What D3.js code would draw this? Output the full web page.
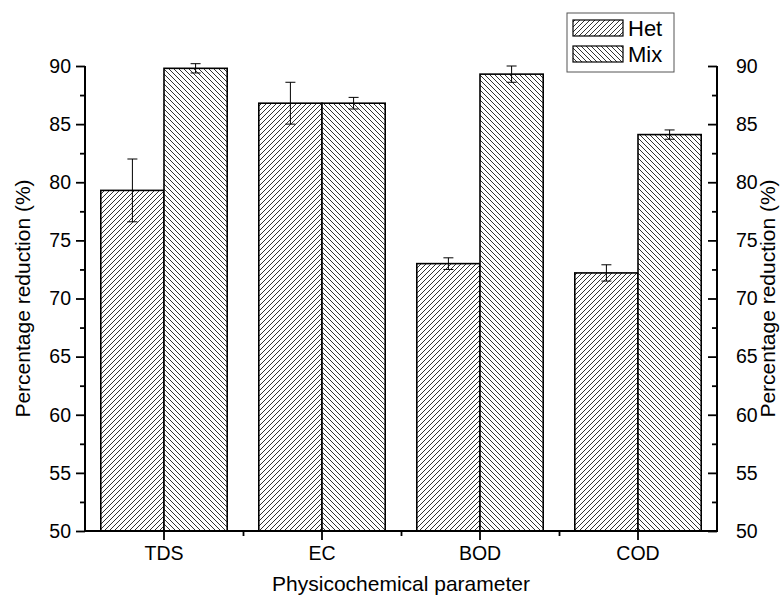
<!DOCTYPE html>
<html><head><meta charset="utf-8">
<script src="https://cdn.jsdelivr.net/npm/d3@7/dist/d3.min.js"></script>
<style>body{margin:0;background:#fff}svg{display:block}text{font-family:"Liberation Sans",Arial,sans-serif;fill:#000}</style>
</head><body><svg id="c" width="781" height="603"></svg>
<script>
const categories = ["TDS","EC","BOD","COD"];
const seriesNames = ["Het","Mix"];
const hetValues = [79.3, 86.8, 73.0, 72.2];
const hetErrors = [2.7, 1.8, 0.5, 0.7];
const mixValues = [89.8, 86.8, 89.3, 84.1];
const mixErrors = [0.4, 0.5, 0.7, 0.4];
const yTicks = [50,55,60,65,70,75,80,85,90];
const yMinorTicks = [52.5,57.5,62.5,67.5,72.5,77.5,82.5,87.5];

const svg = d3.select("#c");
const L = 85, R = 717, T = 66, B = 531;
const x = d3.scaleBand().domain(categories).range([L, R]).padding(0);
const y = d3.scaleLinear().domain([50, 90]).range([B, T]);
const inner = d3.scaleBand().domain(seriesNames).range([0, x.bandwidth()]).paddingOuter(0.25).paddingInner(0);

const defs = svg.append("defs");
const P = 5;
function pat(id, d){
  const p = defs.append("pattern").attr("id", id).attr("patternUnits","userSpaceOnUse").attr("width",P).attr("height",P);
  p.append("rect").attr("width",P).attr("height",P).attr("fill","#fff");
  p.append("path").attr("d", d).attr("stroke","#333").attr("stroke-width",1.2).attr("fill","none").attr("shape-rendering","crispEdges");
}
pat("hHet",`M0,${P} L${P},0 M-1,1 L1,-1 M${P-1},${P+1} L${P+1},${P-1}`);
pat("hMix",`M0,0 L${P},${P} M-1,${P-1} L1,${P+1} M${P-1},-1 L${P+1},1`);
const fills = {Het:"url(#hHet)", Mix:"url(#hMix)"};

const data = [];
categories.forEach((c,i)=>{
  data.push({cat:c, s:"Het", v:hetValues[i], e:hetErrors[i]});
  data.push({cat:c, s:"Mix", v:mixValues[i], e:mixErrors[i]});
});

// bars
svg.append("g").selectAll("rect").data(data).join("rect")
  .attr("x", d=>x(d.cat)+inner(d.s))
  .attr("y", d=>y(d.v))
  .attr("width", inner.bandwidth())
  .attr("height", d=>y(50)-y(d.v))
  .attr("fill", d=>fills[d.s])
  .attr("stroke","#000").attr("stroke-width",1.6);

// error bars
const eb = svg.append("g").attr("stroke","#000").attr("stroke-width",1);
data.forEach(d=>{
  const cx = x(d.cat)+inner(d.s)+inner.bandwidth()/2;
  eb.append("line").attr("x1",cx).attr("x2",cx).attr("y1",y(d.v+d.e)).attr("y2",y(d.v-d.e));
  eb.append("line").attr("x1",cx-5).attr("x2",cx+5).attr("y1",y(d.v+d.e)).attr("y2",y(d.v+d.e));
  eb.append("line").attr("x1",cx-5).attr("x2",cx+5).attr("y1",y(d.v-d.e)).attr("y2",y(d.v-d.e));
});

// axes
const fs = "19.5px";
svg.append("g").attr("transform",`translate(${L},0)`)
  .call(d3.axisLeft(y).tickValues(yTicks).tickSize(9).tickPadding(5).tickFormat(d3.format("d")));
svg.append("g").attr("transform",`translate(${L},0)`)
  .call(d3.axisLeft(y).tickValues(yMinorTicks).tickSize(5).tickFormat(""));
svg.append("g").attr("transform",`translate(${R},0)`)
  .call(d3.axisRight(y).tickValues(yTicks).tickSize(-9).tickPadding(19).tickFormat(d3.format("d")));
svg.append("g").attr("transform",`translate(${R},0)`)
  .call(d3.axisRight(y).tickValues(yMinorTicks).tickSize(-5).tickFormat(""));
svg.append("g").attr("transform",`translate(0,${B})`)
  .call(d3.axisBottom(x).tickSize(9).tickPadding(6));
const boundaries = categories.slice(1).map(c=>x(c));
const xMinor = d3.scaleLinear().domain([L,R]).range([L,R]);
svg.append("g").attr("transform",`translate(0,${B})`)
  .call(d3.axisBottom(xMinor).tickValues(boundaries).tickSize(5).tickFormat(""));
svg.selectAll(".tick line").attr("stroke","#000").attr("stroke-width",1.8);
svg.selectAll(".tick text").style("font-size",fs);
svg.selectAll(".domain").remove();
svg.append("line").attr("x1",L).attr("x2",L).attr("y1",T).attr("y2",B+1).attr("stroke","#000").attr("stroke-width",2);
svg.append("line").attr("x1",R).attr("x2",R).attr("y1",T).attr("y2",B+1).attr("stroke","#000").attr("stroke-width",2);
svg.append("line").attr("x1",L-1).attr("x2",R+1).attr("y1",B).attr("y2",B).attr("stroke","#000").attr("stroke-width",2);

// axis titles
svg.append("text").attr("x",(L+R)/2).attr("y",591).attr("text-anchor","middle").style("font-size","21px").text("Physicochemical parameter");
svg.append("text").attr("transform",`translate(30,${(T+B)/2}) rotate(-90)`).attr("text-anchor","middle").style("font-size","21px").text("Percentage reduction (%)");
svg.append("text").attr("transform",`translate(775,${(T+B)/2}) rotate(-90)`).attr("text-anchor","middle").style("font-size","21px").text("Percentage reduction (%)");

// legend
const lg = svg.append("g");
lg.append("rect").attr("x",567).attr("y",13).attr("width",107).attr("height",59).attr("fill","#fff").attr("stroke","#555").attr("stroke-width",1);
seriesNames.forEach((s,i)=>{
  const yy = 20 + i*26;
  lg.append("rect").attr("x",573).attr("y",yy).attr("width",50).attr("height",16).attr("fill",fills[s]).attr("stroke","#000").attr("stroke-width",1.2);
  lg.append("text").attr("x",628).attr("y",yy+16).style("font-size","22px").text(s);
});
</script></body></html>
